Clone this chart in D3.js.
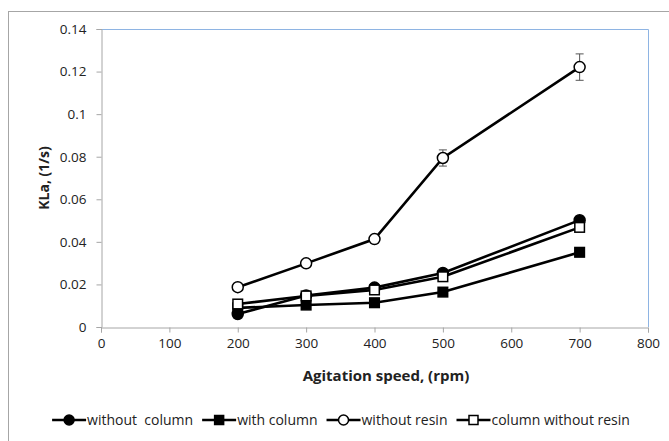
<!DOCTYPE html>
<html><head><meta charset="utf-8">
<script src="https://cdn.jsdelivr.net/npm/d3@7"></script>
<style>body{margin:0;background:#fff}svg{display:block}text{font-family:"Open Sans",sans-serif;fill:#222;white-space:pre}</style>
</head><body><svg id="c" width="669" height="441"></svg>
<script>
const speeds = [200, 300, 400, 500, 700];
const withoutColumn = [0.0061, 0.0148, 0.0185, 0.0254, 0.0502];
const withColumn = [0.0090, 0.0103, 0.0114, 0.0164, 0.0351];
const withoutResin = [0.0187, 0.0299, 0.0413, 0.0794, 0.1221];
const columnWithoutResin = [0.0108, 0.0146, 0.0174, 0.0236, 0.0468];
const withoutResinErr = [0, 0, 0, 0.0038, 0.0062];
const withoutColumnErr = [0, 0, 0, 0, 0.0018];
const xTicks = [0, 100, 200, 300, 400, 500, 600, 700, 800];
const yTicks = [0, 0.02, 0.04, 0.06, 0.08, 0.1, 0.12, 0.14];
const seriesNames = ["without  column", "with column", "without resin", "column without resin"];

const series = [
  {name: seriesNames[0], vals: withoutColumn, err: withoutColumnErr, shape: "circle", fill: "#000"},
  {name: seriesNames[1], vals: withColumn, err: null, shape: "square", fill: "#000"},
  {name: seriesNames[2], vals: withoutResin, err: withoutResinErr, shape: "circle", fill: "#fff"},
  {name: seriesNames[3], vals: columnWithoutResin, err: null, shape: "square", fill: "#fff"}
];

const svg = d3.select("#c");
svg.append("rect").attr("x", 8.5).attr("y", 11.5).attr("width", 700).attr("height", 500)
  .attr("fill", "none").attr("stroke", "#a6a6a6").attr("stroke-width", 1);

const L = 101, R = 648, T = 29, B = 327;
const x = d3.scaleLinear().domain([0, 800]).range([L, R]);
const y = d3.scaleLinear().domain([0, 0.14]).range([B, T]);

svg.append("path").attr("d", `M${L},${T+0.5}H${R+0.5}V${B}`).attr("fill", "none")
  .attr("stroke", "#8eb4e3").attr("stroke-width", 1);

const xAxis = svg.append("g").attr("transform", `translate(0,${B+0.5})`)
  .call(d3.axisBottom(x).tickValues(xTicks).tickFormat(d3.format("d")).tickSize(5).tickPadding(6));
const yAxis = svg.append("g").attr("transform", `translate(${L+0.5},0)`)
  .call(d3.axisLeft(y).tickValues(yTicks).tickFormat(d => d === 0 ? "0" : String(+d.toFixed(2))).tickSize(5).tickPadding(10));
[xAxis, yAxis].forEach(g => {
  g.selectAll("path.domain").attr("stroke", "#a6a6a6");
  g.selectAll(".tick line").attr("stroke", "#a6a6a6");
  g.selectAll("text").attr("font-size", 13.5).attr("fill", "#222").style("font-family", "'Open Sans', sans-serif");
});

svg.append("text").attr("x", 386).attr("y", 381).attr("text-anchor", "middle")
  .attr("font-size", 15).attr("font-weight", "bold").text("Agitation speed, (rpm)");
svg.append("text").attr("transform", `translate(49,${178}) rotate(-90)`).attr("text-anchor", "middle")
  .attr("font-size", 14).attr("font-weight", "bold").text("KLa, (1/s)");

const line = d3.line().x(d => x(d[0])).y(d => y(d[1]));
function marker(g, shape, fill, cx, cy, s) {
  if (shape === "circle") {
    g.append("circle").attr("cx", cx).attr("cy", cy).attr("r", s).attr("fill", fill).attr("stroke", "#000").attr("stroke-width", 1.5);
  } else {
    g.append("rect").attr("x", cx - s).attr("y", cy - s).attr("width", 2*s).attr("height", 2*s).attr("fill", fill).attr("stroke", "#000").attr("stroke-width", 1.5);
  }
}
series.forEach(s => {
  const pts = speeds.map((v, i) => [v, s.vals[i]]);
  svg.append("path").datum(pts).attr("d", line).attr("fill", "none").attr("stroke", "#000").attr("stroke-width", 2.6);
  if (s.err) {
    pts.forEach((p, i) => {
      const e = s.err[i]; if (!e) return;
      const g = svg.append("g").attr("stroke", "#555").attr("stroke-width", 1);
      g.append("line").attr("x1", x(p[0])).attr("x2", x(p[0])).attr("y1", y(p[1]-e)).attr("y2", y(p[1]+e));
      g.append("line").attr("x1", x(p[0])-4).attr("x2", x(p[0])+4).attr("y1", y(p[1]+e)).attr("y2", y(p[1]+e));
      g.append("line").attr("x1", x(p[0])-4).attr("x2", x(p[0])+4).attr("y1", y(p[1]-e)).attr("y2", y(p[1]-e));
    });
  }
  const g = svg.append("g");
  pts.forEach(p => marker(g, s.shape, s.fill, x(p[0]), y(p[1]), s.shape === "circle" ? 5.5 : 4.8));
});

// legend, centred
const ly = 420, seg = 34, fs = 14, gap = 9;
const lg = svg.append("g");
let lx = 0;
series.forEach(s => {
  lg.append("line").attr("x1", lx).attr("x2", lx + seg).attr("y1", ly).attr("y2", ly).attr("stroke", "#000").attr("stroke-width", 2.6);
  marker(lg, s.shape, s.fill, lx + seg / 2, ly, s.shape === "circle" ? 5 : 4.5);
  const t = lg.append("text").attr("x", lx + seg + 1).attr("y", ly + 5).attr("font-size", fs).text(s.name);
  lx += seg + 1 + t.node().getComputedTextLength() + gap;
});
const total = lx - gap;
lg.attr("transform", `translate(${341 - total / 2},0)`);
</script></body></html>
